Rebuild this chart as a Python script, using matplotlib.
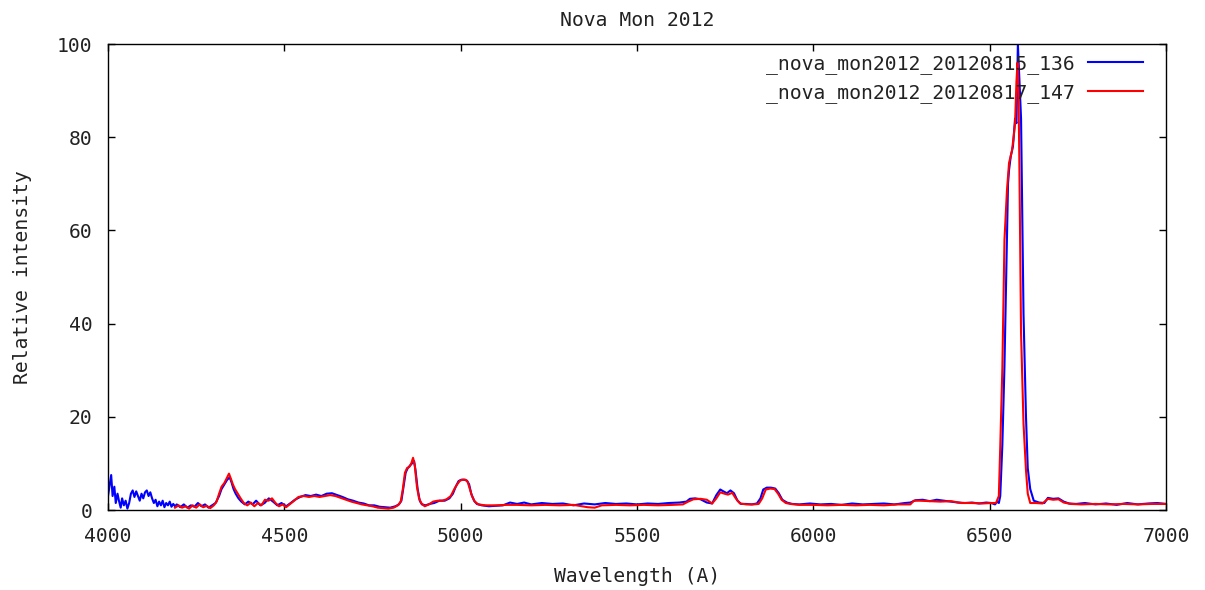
import matplotlib
matplotlib.use("Agg")
import matplotlib.pyplot as plt

title = "Nova Mon 2012"
xlabel = "Wavelength (A)"
ylabel = "Relative intensity"
labels = ["_nova_mon2012_20120815_136", "_nova_mon2012_20120817_147"]
xticks = [4000, 4500, 5000, 5500, 6000, 6500, 7000]
yticks = [0, 20, 40, 60, 80, 100]

blue_wl = [4000, 4005, 4009, 4013, 4018, 4022, 4027, 4031, 4036, 4040, 4045, 4050, 4055, 4060,
           4065, 4070, 4075, 4080, 4085, 4090, 4095, 4100, 4105, 4110, 4115, 4120, 4125, 4130,
           4135, 4140, 4145, 4150, 4155, 4160, 4165, 4170, 4175, 4180, 4185, 4190, 4195,
           4205, 4215, 4225, 4235, 4245, 4255, 4265, 4275, 4285, 4295, 4305,
           4315, 4322, 4330, 4338, 4345, 4350, 4356, 4362, 4370, 4378, 4388, 4398, 4410, 4420,
           4432, 4444, 4456, 4468, 4480, 4492, 4505, 4518, 4530, 4545, 4560, 4575, 4590, 4605,
           4620, 4635, 4650, 4665, 4680, 4695, 4710, 4725, 4740, 4755, 4770, 4785, 4800, 4815,
           4825, 4832, 4838, 4844, 4850, 4856, 4862, 4868, 4872, 4878, 4884, 4890, 4900, 4912,
           4925, 4940, 4955, 4968, 4978, 4986, 4994, 5002, 5010, 5018, 5024, 5030, 5038, 5046,
           5060, 5080, 5100, 5120, 5140, 5160, 5180, 5200, 5230, 5260, 5290, 5320, 5350, 5380,
           5410, 5440, 5470, 5500, 5530, 5560, 5590, 5620, 5640, 5650, 5665, 5680, 5698, 5713,
           5725, 5736, 5745, 5755, 5765, 5775, 5785, 5795, 5810, 5825, 5840, 5850, 5858, 5868,
           5880, 5892, 5902, 5912, 5925, 5940, 5960, 5990, 6020, 6050, 6080, 6110, 6140, 6170,
           6200, 6230, 6260, 6275, 6290, 6310, 6330, 6350, 6370, 6390, 6410, 6430, 6450, 6470,
           6490, 6505, 6515, 6522, 6526, 6530, 6536, 6542, 6549, 6552, 6555, 6560, 6566, 6572,
           6576, 6580, 6584, 6589, 6596, 6603, 6608, 6615, 6625, 6640, 6655, 6665, 6680, 6695,
           6710, 6725, 6745, 6770, 6800, 6830, 6860, 6890, 6920, 6950, 6975, 7000]
blue_val = [3.0, 5.5, 7.5, 3.0, 5.0, 1.5, 3.5, 2.0, 0.5, 2.5, 1.0, 2.0, 0.3, 1.5,
            3.5, 4.2, 2.8, 4.0, 3.0, 2.0, 3.5, 2.5, 3.8, 4.2, 3.0, 3.8, 2.5, 1.5,
            2.2, 0.8, 1.8, 1.0, 2.0, 0.6, 1.5, 1.0, 1.8, 0.7, 1.3, 0.8, 1.2,
            0.6, 1.2, 0.5, 1.0, 0.7, 1.5, 0.8, 1.2, 0.5, 1.0, 1.5,
            3.0, 4.5, 5.5, 6.5, 7.0, 6.0, 4.5, 3.5, 2.5, 1.8, 1.2, 1.8, 1.2, 2.0,
            1.0, 1.5, 2.5, 1.8, 1.0, 1.5, 0.8, 1.5, 2.2, 2.8, 3.2, 3.0, 3.3, 3.0,
            3.5, 3.6, 3.2, 2.8, 2.3, 2.0, 1.6, 1.4, 1.0, 1.0, 0.7, 0.6, 0.5, 0.8,
            1.2, 2.0, 5.0, 8.0, 9.0, 9.5, 10.0, 10.5, 8.5, 4.5, 2.0, 1.2, 1.0, 1.3,
            1.5, 2.0, 2.0, 2.5, 3.5, 5.0, 6.2, 6.5, 6.5, 6.3, 5.5, 3.5, 2.0, 1.3,
            1.0, 0.8, 0.9, 1.0, 1.6, 1.3, 1.6, 1.2, 1.5, 1.3, 1.4, 1.0, 1.4, 1.2,
            1.5, 1.3, 1.4, 1.2, 1.4, 1.3, 1.5, 1.6, 1.8, 2.4, 2.5, 2.3, 1.6, 1.4,
            3.2, 4.4, 4.0, 3.6, 4.2, 3.6, 2.0, 1.3, 1.3, 1.2, 1.4, 2.5, 4.4, 4.8,
            4.8, 4.6, 3.6, 2.2, 1.6, 1.3, 1.2, 1.4, 1.2, 1.3, 1.1, 1.4, 1.2, 1.3,
            1.4, 1.2, 1.5, 1.6, 2.1, 2.2, 1.9, 2.2, 2.0, 1.8, 1.6, 1.5, 1.6, 1.4,
            1.6, 1.5, 1.2, 1.8, 1.5, 3.0, 14.0, 31.0, 59.0, 70.0, 73.0, 76.0, 78.0, 84.0,
            83.0, 100.0, 93.0, 84.0, 42.0, 20.0, 9.0, 4.5, 2.0, 1.6, 1.5, 2.6, 2.4, 2.5,
            1.8, 1.4, 1.3, 1.5, 1.2, 1.4, 1.1, 1.5, 1.2, 1.4, 1.5, 1.3]

red_wl = [4190, 4200, 4210, 4220, 4230, 4240, 4250, 4260, 4270, 4280, 4290, 4300,
          4308, 4315, 4322, 4330, 4338, 4343, 4348, 4354, 4360, 4368, 4376, 4385, 4395,
          4405, 4415, 4425, 4435, 4445, 4455, 4465, 4475, 4485, 4495, 4505, 4515, 4528,
          4540, 4555, 4570, 4585, 4600, 4615, 4630, 4645, 4660, 4675, 4690, 4705, 4720,
          4735, 4750, 4765, 4780, 4795, 4810, 4822, 4830, 4836, 4842, 4848, 4854, 4860,
          4865, 4870, 4876, 4882, 4888, 4898, 4910, 4922, 4935, 4948, 4960, 4972, 4982,
          4990, 4998, 5006, 5014, 5020, 5026, 5032, 5040, 5050, 5070, 5100, 5130, 5160,
          5200, 5240, 5280, 5320, 5360, 5380, 5400, 5440, 5480, 5520, 5560, 5600, 5630,
          5645, 5660, 5680, 5698, 5713, 5725, 5736, 5748, 5758, 5770, 5780, 5792, 5810,
          5830, 5845, 5855, 5865, 5878, 5890, 5900, 5910, 5922, 5935, 5960, 6000, 6040,
          6080, 6120, 6160, 6200, 6240, 6275, 6285, 6300, 6330, 6360, 6390, 6420, 6450,
          6480, 6505, 6518, 6526, 6530, 6536, 6542, 6549, 6555, 6563, 6568, 6572, 6576,
          6579, 6582, 6584, 6589, 6596, 6603, 6608, 6615, 6630, 6650, 6665, 6680, 6695,
          6710, 6730, 6760, 6800, 6840, 6880, 6920, 6960, 7000]
red_val = [0.5, 1.0, 0.5, 0.8, 0.3, 1.0, 0.5, 1.2, 0.6, 0.9, 0.4, 1.0,
           1.8, 3.5, 5.0, 5.8, 7.0, 7.8, 6.8, 5.5, 4.5, 3.5, 2.5, 1.5, 1.0,
           1.6, 0.8, 1.5, 1.0, 2.2, 2.0, 2.5, 1.5, 0.8, 1.2, 0.6, 1.2, 2.0,
           2.8, 3.0, 2.8, 3.0, 2.8, 3.0, 3.2, 3.0, 2.6, 2.2, 1.8, 1.5, 1.2,
           1.0, 0.8, 0.5, 0.4, 0.3, 0.5, 1.0, 1.8, 4.5, 8.0, 9.0, 9.2, 10.0,
           11.2, 9.5, 5.0, 2.5, 1.5, 0.8, 1.2, 1.8, 2.0, 2.0, 2.3, 3.0, 4.5,
           5.5, 6.3, 6.5, 6.5, 6.0, 4.5, 3.0, 1.8, 1.2, 1.0, 1.0, 1.1, 1.1,
           1.0, 1.1, 1.0, 1.1, 0.6, 0.5, 1.0, 1.1, 1.0, 1.1, 1.0, 1.1, 1.2,
           1.8, 2.3, 2.4, 2.2, 1.4, 2.5, 3.8, 3.5, 3.3, 3.7, 2.5, 1.4, 1.2,
           1.2, 1.3, 2.5, 4.4, 4.6, 4.5, 3.5, 2.2, 1.5, 1.3, 1.1, 1.1, 1.0,
           1.1, 1.0, 1.1, 1.0, 1.2, 1.2, 2.0, 2.0, 1.9, 1.8, 1.9, 1.5, 1.5,
           1.4, 1.5, 1.5, 3.0, 13.5, 30.5, 58.0, 68.5, 74.5, 77.0, 80.0, 83.0, 92.0,
           96.0, 88.0, 76.0, 38.0, 18.5, 8.5, 3.5, 1.5, 1.5, 1.4, 2.4, 2.2, 2.3,
           1.6, 1.3, 1.2, 1.3, 1.2, 1.3, 1.2, 1.3, 1.3]

W, H, DPI = 1205, 590, 100
fig = plt.figure(figsize=(W / DPI, H / DPI), dpi=DPI)
ax = fig.add_axes([108 / W, 1 - 510 / H, (1166 - 108) / W, (510 - 44) / H])

font = "DejaVu Sans Mono"
fs = 14.2

l1, = ax.plot(blue_wl, blue_val, color="#0000ff", lw=1.5)
l2, = ax.plot(red_wl, red_val, color="#ff0000", lw=1.5)

ax.set_xlim(4000, 7000)
ax.set_ylim(0, 100)
ax.set_xticks(xticks)
ax.set_yticks(yticks)
ax.tick_params(direction="in", length=5, width=1, top=True, right=True,
               labelsize=fs, color="#000000")
ax.tick_params(axis="x", pad=12.5)
ax.tick_params(axis="y", pad=11)
for lab in ax.get_xticklabels() + ax.get_yticklabels():
    lab.set_fontfamily(font)
    lab.set_color("#222222")
for sp in ax.spines.values():
    sp.set_color("#000000")
    sp.set_linewidth(1)

ax.set_title(title, fontfamily=font, fontsize=fs, pad=13, color="#222222")
ax.set_xlabel(xlabel, fontfamily=font, fontsize=fs, labelpad=15, color="#222222")
ax.set_ylabel(ylabel, fontfamily=font, fontsize=fs, labelpad=18, color="#222222")

leg = ax.legend([l1, l2], labels, loc="upper right",
                bbox_to_anchor=((1143 - 108) / 1058, (510 - 54) / 466),
                frameon=False, markerfirst=False, handlelength=2.8,
                handletextpad=0.67, labelspacing=0.44, borderaxespad=0,
                borderpad=0, prop={"family": font, "size": fs})
for t in leg.get_texts():
    t.set_color("#222222")

fig.savefig("out.png", dpi=DPI)
